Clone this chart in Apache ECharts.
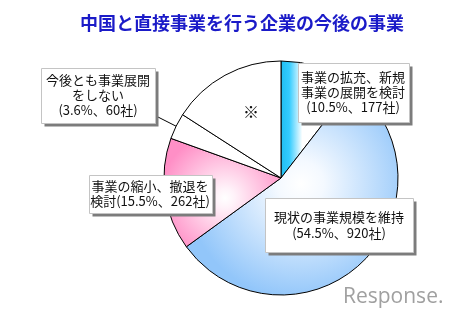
<!DOCTYPE html>
<html>
<head>
<meta charset="utf-8">
<script src="https://cdn.jsdelivr.net/npm/echarts@6/dist/echarts.min.js"></script>
<style>
  html, body { margin: 0; padding: 0; background: #ffffff; }
  #chart { width: 459px; height: 324px; }
</style>
</head>
<body>
<div id="chart"></div>
<script>
// Survey: outlook of companies doing direct business with China
const categories = [
  '事業の拡充、新規事業の展開を検討',
  '現状の事業規模を維持',
  '事業の縮小、撤退を検討',
  '今後とも事業展開をしない',
  '※'
];
const shares = [10.5, 54.5, 15.5, 3.6, 15.9];   // percent of respondents
const companies = [177, 920, 262, 60, null];      // number of companies
// label wording, with the line breaks used in each callout
const labelHeads = [
  '事業の拡充、新規\n事業の展開を検討\n',
  '現状の事業規模を維持\n',
  '事業の縮小、撤退を\n検討',
  '今後とも事業展開\nをしない\n',
  '※'
];

const FONT = '"Noto Sans CJK JP", "Noto Sans", sans-serif';

// slice fills
const fills = [
  { type: 'linear', x: 0, y: 0, x2: 1, y2: 0, colorStops: [
    { offset: 0, color: '#1fbdf0' }, { offset: 0.12, color: '#33ccff' },
    { offset: 0.3, color: '#ffffff' }, { offset: 1, color: '#ffffff' } ] },
  { type: 'radial', x: 0.54, y: 0.47, r: 0.55, colorStops: [
    { offset: 0, color: '#ffffff' }, { offset: 0.2, color: '#f4f9ff' },
    { offset: 1, color: '#92c6fa' } ] },
  { type: 'radial', x: 0.52, y: 0.55, r: 0.6, colorStops: [
    { offset: 0, color: '#ffffff' }, { offset: 0.15, color: '#fff2f9' },
    { offset: 1, color: '#ff8fc6' } ] },
  '#ffffff',
  '#ffffff'
];

// callout boxes: centre, width, vertical padding, line height
const boxes = [
  { cx: 353, cy: 92, w: 111, pad: 7, lh: 15 },
  { cx: 339, cy: 225, w: 148, pad: 11, lh: 16 },
  { cx: 150, cy: 194, w: 123, pad: 4, lh: 15 },
  { cx: 98, cy: 95, w: 114, pad: 5, lh: 15 },
  { cx: 251, cy: 112, lh: 18 }
];

function labelText(i) {
  return companies[i] == null
    ? labelHeads[i]
    : labelHeads[i] + '(' + shares[i] + '%、' + companies[i] + '社)';
}

function boxHeight(i) {
  const lines = labelText(i).split('\n').length;
  return lines * boxes[i].lh + (boxes[i].pad || 0) * 2;
}

// callouts: shadowed white box, one centred text element per line
const callouts = [];
categories.forEach((name, i) => {
  if (companies[i] == null) return;
  const b = boxes[i];
  const lines = labelText(i).split('\n');
  const h = boxHeight(i);
  const x0 = Math.round(b.cx - b.w / 2) + 0.5;
  const y0 = Math.round(b.cy - h / 2) + 0.5;
  callouts.push({
    type: 'rect', silent: true, z: 10,
    shape: { x: x0 + 3, y: y0 + 3, width: b.w, height: h },
    style: { fill: '#7c7c7c' }
  });
  callouts.push({
    type: 'rect', silent: true, z: 11,
    shape: { x: x0, y: y0, width: b.w, height: h },
    style: { fill: '#ffffff', stroke: '#c4c4c4', lineWidth: 1 }
  });
  const top = b.cy - h / 2 + b.pad;
  lines.forEach((line, k) => {
    callouts.push({
      type: 'text', silent: true, z: 12,
      x: b.cx, y: top + b.lh * (k + 0.5),
      style: {
        text: line,
        align: 'center',
        verticalAlign: 'middle',
        fill: '#111111',
        font: '13px ' + FONT
      }
    });
  });
});

callouts.push({
  type: 'text', silent: true,
  left: 343, top: 287,
  style: {
    text: 'Response.',
    fill: '#a0a0a0',
    font: 'normal 21px "Open Sans", sans-serif'
  }
});

// leader from the 3.6% callout to its slice
const leaderData = categories.map((name, i) => ({
  name: name,
  value: shares[i],
  label: { show: i === 3 },
  labelLine: { show: i === 3 }
}));

const chart = echarts.init(document.getElementById('chart'), null, { renderer: 'canvas' });
chart.setOption({
  animation: false,
  backgroundColor: '#ffffff',
  title: {
    text: '中国と直接事業を行う企業の今後の事業',
    left: 75,
    top: 9,
    textStyle: { color: '#1b1bc8', fontSize: 18, fontWeight: 'bold', fontFamily: FONT }
  },
  graphic: callouts,
  series: [{
    type: 'pie',
    silent: true,
    center: [281, 178],
    radius: 117,
    startAngle: 90,
    clockwise: true,
    avoidLabelOverlap: false,
    itemStyle: { borderColor: '#000000', borderWidth: 1 },
    label: {
      position: 'inside',
      formatter: p => labelText(p.dataIndex),
      color: '#111111',
      fontSize: 16,
      fontFamily: FONT
    },
    labelLine: { show: false },
    labelLayout: params => {
      const b = boxes[params.dataIndex];
      return { x: b.cx, y: b.cy, align: 'center', verticalAlign: 'middle' };
    },
    data: categories.map((name, i) => ({
      name: name,
      value: shares[i],
      itemStyle: { color: fills[i] },
      label: { show: companies[i] == null }
    })),
    z: 2
  }, {
    type: 'pie',
    silent: true,
    center: [281, 178],
    radius: 117,
    startAngle: 90,
    clockwise: true,
    avoidLabelOverlap: false,
    itemStyle: { color: 'transparent', borderWidth: 0 },
    label: { position: 'outside', formatter: ' ', fontSize: 1 },
    labelLine: { lineStyle: { color: '#000000', width: 1 } },
    labelLayout: params => {
      const i = params.dataIndex;
      const b = boxes[i];
      const start = [b.cx + b.w / 2, b.cy + boxHeight(i) / 2 - 7];
      const out = { x: start[0], y: start[1] };
      if (params.labelLinePoints) {
        out.labelLinePoints = [start, start, params.labelLinePoints[0]];
      }
      return out;
    },
    data: leaderData,
    z: 3
  }]
});
</script>
</body>
</html>
